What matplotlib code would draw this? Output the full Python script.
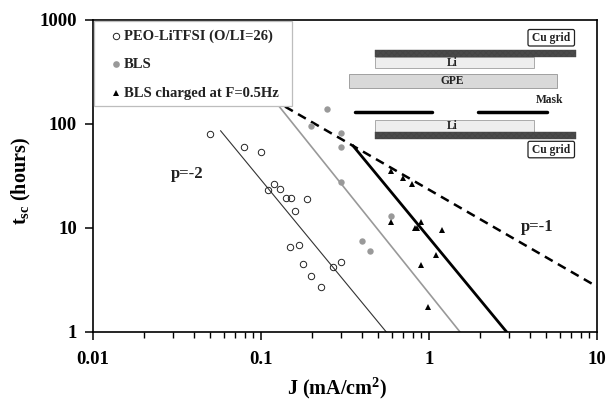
import matplotlib
matplotlib.use("Agg")
import matplotlib.pyplot as plt
from matplotlib.patches import Rectangle, FancyBboxPatch

SERIF = "Liberation Serif"
plt.rcParams["font.family"] = SERIF
plt.rcParams["font.weight"] = "bold"
plt.rcParams["mathtext.fontset"] = "custom"
plt.rcParams["mathtext.bf"] = "Liberation Serif:bold"
plt.rcParams["mathtext.rm"] = "Liberation Serif:bold"
plt.rcParams["mathtext.default"] = "bf"
plt.rcParams["hatch.color"] = "#1c1c1c"
plt.rcParams["hatch.linewidth"] = 0.6

# ---- data
peo_j = [0.0496, 0.0796, 0.0996, 0.119, 0.129, 0.110, 0.140, 0.150, 0.189,
         0.159, 0.169, 0.149, 0.298, 0.179, 0.268, 0.199, 0.229]
peo_t = [80.7, 59.7, 54.2, 26.7, 23.7, 23.4, 19.4, 19.4, 19.0,
         14.5, 6.86, 6.57, 4.74, 4.5, 4.2, 3.48, 2.71]
bls_j = [0.198, 0.248, 0.299, 0.299, 0.299, 0.597, 0.398, 0.448]
bls_t = [96.3, 138, 81.4, 60.5, 27.7, 13.0, 7.5, 6.0]
chg_j = [0.594, 0.698, 0.795, 0.594, 0.893, 0.852, 0.82, 1.19, 1.096, 0.893, 0.99]
chg_t = [35.6, 30, 26.3, 11.5, 11.5, 10, 10, 9.6, 5.46, 4.4, 1.73]

fit_peo_j, fit_peo_t = [0.0575, 0.557], [86, 1]
fit_bls_j, fit_bls_t = [0.1285, 1.53], [147, 1]
fit_chg_j, fit_chg_t = [0.354, 2.9], [61.4, 1]
fit_p1_j, fit_p1_t = [0.139, 10], [147, 2.73]

x_ticks = [0.01, 0.1, 1, 10]
x_tick_labels = ["0.01", "0.1", "1", "10"]
y_ticks = [1, 10, 100, 1000]
y_tick_labels = ["1", "10", "100", "1000"]
legend_labels = ["PEO-LiTFSI (O/LI=26)", "BLS", "BLS charged at F=0.5Hz"]

W, H = 607, 400
fig = plt.figure(figsize=(W / 100, H / 100), dpi=100, facecolor="white")
ax = fig.add_axes([93 / W, 1 - 332 / H, (597 - 93) / W, (332 - 20) / H])
ax.set_xscale("log")
ax.set_yscale("log")
ax.set_xlim(0.01, 10)
ax.set_ylim(1, 1000)

ax.plot(fit_peo_j, fit_peo_t, color="#333333", lw=0.8, zorder=2)
ax.plot(fit_bls_j, fit_bls_t, color="#999999", lw=1.2, zorder=2)
ax.plot(fit_chg_j, fit_chg_t, color="black", lw=2.0, zorder=2)
ax.plot(fit_p1_j, fit_p1_t, color="black", lw=1.8, dashes=(3.6, 2.4), zorder=2)

ax.plot(peo_j, peo_t, ls="", marker="o", ms=4.6, mfc="none", mec="#222222", mew=0.7, zorder=3)
ax.plot(bls_j, bls_t, ls="", marker="o", ms=4.6, mfc="#999999", mec="#999999", mew=0, zorder=3)
ax.plot(chg_j, chg_t, ls="", marker="^", ms=4.8, mfc="black", mec="black", mew=0, zorder=3)

ax.set_xticks(x_ticks)
ax.set_xticklabels(x_tick_labels)
ax.set_yticks(y_ticks)
ax.set_yticklabels(y_tick_labels)
ax.yaxis.set_minor_locator(matplotlib.ticker.NullLocator())
ax.tick_params(axis="both", which="major", length=6, width=1.1, labelsize=13.5)
ax.tick_params(axis="y", which="major", pad=5.5)
ax.tick_params(axis="x", which="major", pad=7.5)
ax.tick_params(axis="x", which="minor", length=4, width=1.0)
ax.xaxis.set_minor_formatter(matplotlib.ticker.NullFormatter())
for s in ax.spines.values():
    s.set_linewidth(1.2)

# pixel-space overlay for the annotations and schematic
ov = fig.add_axes([0, 0, 1, 1], facecolor="none")
ov.set_xlim(0, W)
ov.set_ylim(H, 0)
ov.axis("off")

fig.text(337 / W, 1 - 388 / H, "J (mA/cm$^{2}$)", ha="center", va="center", fontsize=14.5)
fig.text(21 / W, 1 - 181 / H, r"t$_{sc}$ (hours)", ha="center", va="center",
         rotation=90, fontsize=14.5)

ov.text(187, 174, "p=-2", ha="center", va="center", fontsize=12, color="#222222")
ov.text(537, 227, "p=-1", ha="center", va="center", fontsize=12, color="#222222")

# legend box
ov.add_patch(Rectangle((94, 20.5), 198, 85, fc="white", ec="#bdbdbd", lw=0.9, zorder=4))
for yy, lab in zip([36, 64, 93], legend_labels):
    ov.text(123.5, yy, lab, ha="left", va="center", fontsize=10.5, color="#222222", zorder=5)
ov.plot([115.5], [36], marker="o", ms=4.6, mfc="none", mec="#222222", mew=0.7, zorder=5)
ov.plot([115.5], [64], marker="o", ms=4.8, mfc="#999999", mec="#999999", mew=0, zorder=5)
ov.plot([115.5], [93], marker="^", ms=4.8, mfc="black", mec="black", mew=0, zorder=5)

# schematic of the cell
def strip(y0, y1):
    ov.add_patch(Rectangle((375, y0), 200.5, y1 - y0, fc="#4a4a4a", ec="#444444", lw=0.3,
                           hatch="xxxxxx", zorder=2))

strip(49.5, 56.5)
strip(131.8, 138.7)
ov.add_patch(Rectangle((375, 56.7), 159, 11.6, fc="#eeeeee", ec="#aaaaaa", lw=0.7))
ov.add_patch(Rectangle((375, 120.3), 159, 11.4, fc="#eeeeee", ec="#aaaaaa", lw=0.7))
ov.add_patch(Rectangle((348.5, 74), 208, 14.3, fc="#d9d9d9", ec="#a0a0a0", lw=0.7))
ov.plot([355, 431.5], [112.3, 112.3], color="black", lw=2.5, solid_capstyle="round")
ov.plot([477.5, 547], [112.3, 112.3], color="black", lw=2.5, solid_capstyle="round")
for y0 in (29.5, 141.3):
    ov.add_patch(FancyBboxPatch((528, y0), 46.5, 16.5, boxstyle="round,pad=0,rounding_size=1.8",
                                fc="white", ec="#222222", lw=0.9))
    ov.text(551, y0 + 8.5, "Cu grid", ha="center", va="center", fontsize=8.3, color="#222222")
ov.text(452, 62.5, "Li", ha="center", va="center", fontsize=8.3, color="#222222")
ov.text(452, 126, "Li", ha="center", va="center", fontsize=8.3, color="#222222")
ov.text(452, 81.3, "GPE", ha="center", va="center", fontsize=8.3, color="#222222")
ov.text(550, 100, "Mask", ha="center", va="center", fontsize=8.3, color="#222222")

fig.savefig("out.png", dpi=100, facecolor="white")
